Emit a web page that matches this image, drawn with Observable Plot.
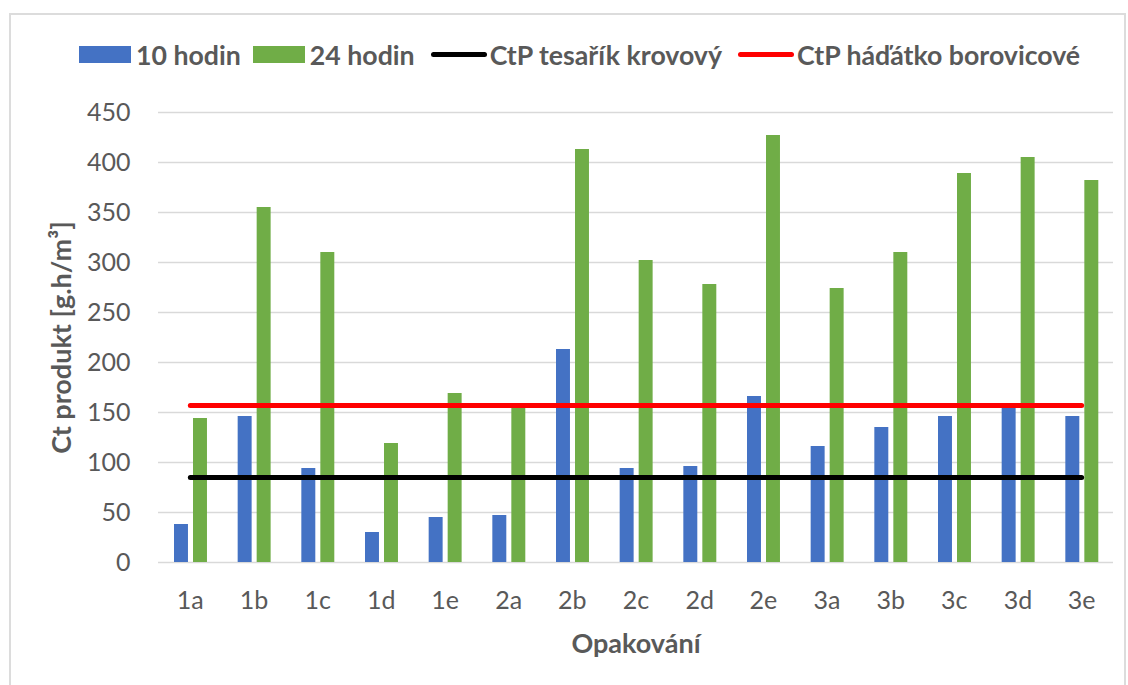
<!DOCTYPE html>
<html>
<head>
<meta charset="utf-8">
<script src="https://cdn.jsdelivr.net/npm/d3@7"></script>
<script src="https://cdn.jsdelivr.net/npm/@observablehq/plot@0.6"></script>
<style>
  body { margin: 0; background: #fff; font-family: Lato, "Open Sans", sans-serif; }
  #wrap { position: relative; width: 1128px; height: 685px; overflow: hidden; }
  #frame { position: absolute; left: 9px; top: 13px; width: 1117px; height: 700px; border: 2px solid #dcdcdc; box-sizing: border-box; pointer-events: none; }
  #legend { height: 80px; box-sizing: border-box; padding-top: 30px; padding-left: 79px; display: flex; align-items: center; }
  .item { display: flex; align-items: center; margin-right: 12px; }
  .key { margin-right: 5px; }
  .label { font-weight: bold; font-size: 26.7px; color: #595959; white-space: nowrap; line-height: 1; }
  svg { display: block; }
</style>
</head>
<body>
<div id="wrap">
  <div id="legend"></div>
  <div id="chart"></div>
  <div id="frame"></div>
</div>
<script>
// ---- data ----
const categories = ["1a","1b","1c","1d","1e","2a","2b","2c","2d","2e","3a","3b","3c","3d","3e"];
const hours10 = [38,146,94,30,45,47,213,94,96,166,116,135,146,155,146];
const hours24 = [144,355,310,119,169,157,413,302,278,427,274,310,389,405,382];
const seriesNames = ["10 hodin","24 hodin","CtP tesařík krovový","CtP háďátko borovicové"];
const seriesColors = ["#4472C4","#70AD47","#000000","#FF0000"];
const seriesKinds = ["bar","bar","line","line"];
const thresholdTesarik = 85;
const thresholdHadatko = 157;
const yTicks = [0,50,100,150,200,250,300,350,400,450];
const xTitle = "Opakování";
const yTitle = "Ct produkt [g.h/m³]";

// ---- legend ----
const legend = document.getElementById("legend");
seriesNames.forEach((name, i) => {
  const item = document.createElement("div");
  item.className = "item";
  const key = document.createElement("div");
  key.className = "key";
  if (seriesKinds[i] === "bar") {
    key.style.cssText = `width:52px;height:17px;background:${seriesColors[i]};`;
  } else {
    key.style.cssText = `width:56px;height:5px;border-radius:3px;background:${seriesColors[i]};margin-left:4px;margin-right:3px;`;
  }
  const lab = document.createElement("span");
  lab.className = "label";
  lab.textContent = name;
  item.appendChild(key);
  item.appendChild(lab);
  legend.appendChild(item);
});

// ---- chart ----
const data10 = categories.map((c, i) => ({cat: c, value: hours10[i]}));
const data24 = categories.map((c, i) => ({cat: c, value: hours24[i]}));
const lineT = categories.map(c => ({cat: c, value: thresholdTesarik}));
const lineH = categories.map(c => ({cat: c, value: thresholdHadatko}));

const chart = Plot.plot({
  width: 1128,
  height: 605,
  marginTop: 32,
  marginBottom: 123,
  marginLeft: 158,
  marginRight: 15,
  style: { fontFamily: "Lato, 'Open Sans', sans-serif", fontSize: "25px", color: "#595959", background: "transparent", overflow: "visible" },
  x: { domain: categories, padding: 0, round: false, label: null, tickSize: 0, tickPadding: 29 },
  y: { domain: [0, 450], ticks: yTicks, tickSize: 0, tickPadding: 28, label: null },
  marks: [
    Plot.ruleY(yTicks, { stroke: "#d9d9d9", strokeWidth: 1.5 }),
    Plot.barY(data10, { x: "cat", y: "value", fill: seriesColors[0], insetLeft: 16, insetRight: 33.7 }),
    Plot.barY(data24, { x: "cat", y: "value", fill: seriesColors[1], insetLeft: 35, insetRight: 14.7 }),
    Plot.lineY(lineT, { x: "cat", y: "value", stroke: seriesColors[2], strokeWidth: 5, strokeLinecap: "round" }),
    Plot.lineY(lineH, { x: "cat", y: "value", stroke: seriesColors[3], strokeWidth: 5, strokeLinecap: "round" }),
    Plot.text([xTitle], { frameAnchor: "bottom", textAnchor: "middle", dy: 90, text: d => d, fontWeight: "bold", fontSize: 27, fill: "#595959" }),
    Plot.text([yTitle], { frameAnchor: "left", textAnchor: "middle", dx: -96, rotate: -90, text: d => d, fontWeight: "bold", fontSize: 27, fill: "#595959" })
  ]
});
document.getElementById("chart").appendChild(chart);
</script>
</body>
</html>
